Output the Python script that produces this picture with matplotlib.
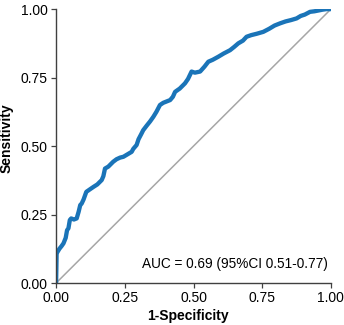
import numpy as np
import matplotlib
matplotlib.use('Agg')
import matplotlib.pyplot as plt

plt.rcParams['font.family'] = ['Liberation Sans', 'DejaVu Sans']

# ROC curve points (1-specificity, sensitivity)
fpr = [0.0, 0.001, 0.002, 0.006, 0.012, 0.02, 0.027, 0.035, 0.04, 0.045, 0.05, 0.055,
       0.065, 0.075, 0.082, 0.088, 0.093, 0.1, 0.11, 0.12, 0.136, 0.15, 0.166,
       0.172, 0.178, 0.19, 0.208, 0.22, 0.233, 0.245, 0.26, 0.275, 0.281, 0.293, 0.3,
       0.311, 0.317, 0.33, 0.342, 0.354, 0.365, 0.378, 0.39, 0.4, 0.415, 0.425, 0.433,
       0.45, 0.469, 0.48, 0.493, 0.505, 0.524, 0.54, 0.554, 0.57, 0.59, 0.61, 0.633,
       0.648, 0.663, 0.68, 0.693, 0.71, 0.73, 0.754, 0.775, 0.795, 0.815, 0.835, 0.855,
       0.875, 0.89, 0.905, 0.924, 0.94, 0.955, 0.97, 0.984, 1.0]
tpr = [0.0, 0.05, 0.108, 0.115, 0.125, 0.135, 0.145, 0.165, 0.193, 0.2, 0.23, 0.236,
       0.232, 0.236, 0.26, 0.285, 0.29, 0.305, 0.333, 0.34, 0.351, 0.36, 0.376,
       0.39, 0.418, 0.425, 0.443, 0.452, 0.458, 0.461, 0.47, 0.479, 0.49, 0.504, 0.525,
       0.546, 0.558, 0.575, 0.59, 0.607, 0.625, 0.65, 0.658, 0.662, 0.668, 0.68, 0.698,
       0.71, 0.729, 0.745, 0.772, 0.768, 0.772, 0.79, 0.808, 0.815, 0.826, 0.838, 0.85,
       0.862, 0.875, 0.885, 0.899, 0.905, 0.91, 0.917, 0.928, 0.94, 0.948, 0.955, 0.96,
       0.966, 0.975, 0.98, 0.99, 0.992, 0.995, 0.998, 1.0, 1.0]

ticks = [0.0, 0.25, 0.5, 0.75, 1.0]
tick_labels = ['0.00', '0.25', '0.50', '0.75', '1.00']
auc_text = 'AUC = 0.69 (95%CI 0.51-0.77)'

fig = plt.figure(figsize=(3.44, 3.25), dpi=100)
ax = fig.add_axes([0.163, 0.129, 0.799, 0.843])

ax.plot([0, 1], [0, 1], color='#a6a6a6', lw=1.1, zorder=1)
ax.plot(fpr, tpr, color='#1a74b8', lw=3.1, solid_joinstyle='round', zorder=2)

ax.set_xlim(0, 1)
ax.set_ylim(0, 1)
ax.set_xticks(ticks)
ax.set_xticklabels(tick_labels)
ax.set_yticks(ticks)
ax.set_yticklabels(tick_labels)
for s in ['top', 'right']:
    ax.spines[s].set_visible(False)
for s in ['left', 'bottom']:
    ax.spines[s].set_color('#404040')
    ax.spines[s].set_linewidth(1.0)
    ax.spines[s].set_clip_on(False)
ax.tick_params(direction='out', length=3.5, width=0.9, color='#404040', labelsize=10, pad=2.5)

ax.set_xlabel('1-Specificity', fontsize=10, fontweight='bold')
ax.set_ylabel('Sensitivity', fontsize=10, fontweight='bold')
ax.xaxis.set_label_coords(0.478, -0.095)
ax.yaxis.set_label_coords(-0.155, 0.53)

ax.text(0.99, 0.07, auc_text, fontsize=9.8, ha='right', va='center')

plt.savefig('out.png', dpi=100)
